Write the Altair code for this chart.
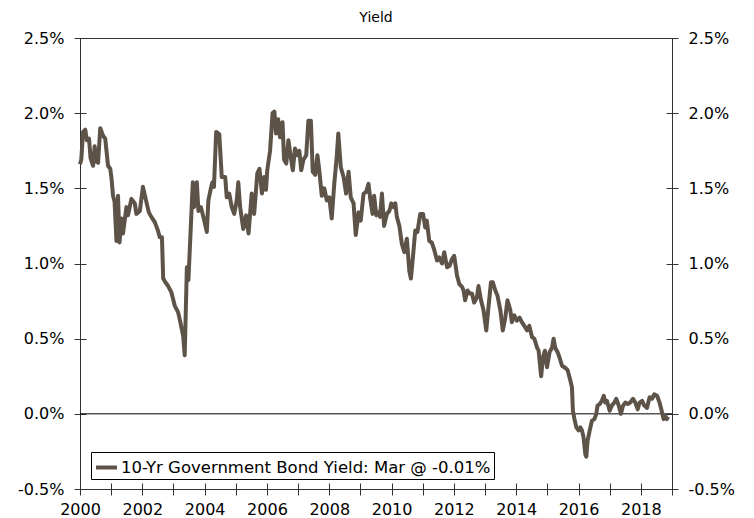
import altair as alt
import pandas as pd

SERIES = "10-Yr Government Bond Yield: Mar @ -0.01%"
TITLE = "Yield"

years = [
    2000.00, 2000.04, 2000.10, 2000.17, 2000.22, 2000.29, 2000.34, 2000.42, 2000.47, 2000.52,
    2000.58, 2000.65, 2000.74, 2000.81, 2000.90, 2000.97, 2001.01, 2001.06, 2001.11, 2001.17,
    2001.22, 2001.27, 2001.33, 2001.38, 2001.49, 2001.54, 2001.65, 2001.76, 2001.81, 2001.92,
    2002.02, 2002.13, 2002.21, 2002.29, 2002.40, 2002.50, 2002.56, 2002.63, 2002.67, 2002.74,
    2002.83, 2002.93, 2003.04, 2003.15, 2003.20, 2003.31, 2003.36, 2003.43, 2003.48, 2003.62,
    2003.66, 2003.75, 2003.80, 2003.88, 2003.96, 2004.07, 2004.12, 2004.20, 2004.25, 2004.30,
    2004.37, 2004.47, 2004.55, 2004.66, 2004.71, 2004.79, 2004.87, 2004.95, 2005.03, 2005.08,
    2005.14, 2005.24, 2005.33, 2005.41, 2005.51, 2005.59, 2005.69, 2005.76, 2005.84, 2005.91,
    2005.97, 2006.01, 2006.10, 2006.18, 2006.24, 2006.29, 2006.36, 2006.42, 2006.50, 2006.55,
    2006.62, 2006.69, 2006.77, 2006.83, 2006.90, 2006.98, 2007.04, 2007.10, 2007.17, 2007.26,
    2007.33, 2007.41, 2007.47, 2007.55, 2007.62, 2007.68, 2007.76, 2007.84, 2007.92, 2008.00,
    2008.08, 2008.16, 2008.24, 2008.29, 2008.37, 2008.46, 2008.54, 2008.62, 2008.69, 2008.78,
    2008.85, 2008.94, 2009.01, 2009.10, 2009.18, 2009.26, 2009.31, 2009.39, 2009.44, 2009.51,
    2009.58, 2009.63, 2009.69, 2009.76, 2009.85, 2009.93, 2009.99, 2010.06, 2010.12, 2010.17,
    2010.25, 2010.33, 2010.41, 2010.49, 2010.57, 2010.62, 2010.68, 2010.76, 2010.83, 2010.92,
    2011.01, 2011.08, 2011.13, 2011.21, 2011.29, 2011.37, 2011.46, 2011.53, 2011.62, 2011.69,
    2011.78, 2011.86, 2011.94, 2012.01, 2012.10, 2012.17, 2012.26, 2012.31, 2012.36, 2012.44,
    2012.50, 2012.58, 2012.65, 2012.74, 2012.79, 2012.87, 2012.95, 2013.04, 2013.11, 2013.19,
    2013.25, 2013.33, 2013.40, 2013.49, 2013.57, 2013.65, 2013.72, 2013.81, 2013.86, 2013.94,
    2014.02, 2014.11, 2014.18, 2014.26, 2014.35, 2014.42, 2014.51, 2014.58, 2014.67, 2014.72,
    2014.80, 2014.86, 2014.92, 2014.99, 2015.07, 2015.15, 2015.20, 2015.25, 2015.33, 2015.39,
    2015.47, 2015.58, 2015.65, 2015.74, 2015.79, 2015.82, 2015.87, 2015.93, 2016.00, 2016.06,
    2016.11, 2016.16, 2016.22, 2016.25, 2016.29, 2016.36, 2016.43, 2016.51, 2016.57, 2016.61,
    2016.68, 2016.75, 2016.81, 2016.86, 2016.91, 2017.00, 2017.07, 2017.15, 2017.21, 2017.29,
    2017.36, 2017.43, 2017.50, 2017.58, 2017.66, 2017.75, 2017.82, 2017.90, 2017.96, 2018.04,
    2018.11, 2018.20, 2018.28, 2018.36, 2018.43, 2018.52, 2018.60, 2018.68, 2018.73, 2018.79,
    2018.84, 2018.87,
]

yields = [
    1.66, 1.69, 1.875, 1.89, 1.82, 1.83, 1.70, 1.65, 1.78, 1.68,
    1.67, 1.90, 1.85, 1.83, 1.65, 1.63, 1.57, 1.45, 1.41, 1.15,
    1.45, 1.14, 1.30, 1.20, 1.375, 1.32, 1.43, 1.40, 1.33, 1.35,
    1.51, 1.41, 1.34, 1.31, 1.275, 1.22, 1.175, 1.175, 0.90, 0.875,
    0.85, 0.81, 0.72, 0.675, 0.63, 0.52, 0.39, 0.975, 0.89, 1.54,
    1.375, 1.54, 1.35, 1.375, 1.31, 1.21, 1.42, 1.50, 1.54, 1.51,
    1.875, 1.86, 1.575, 1.575, 1.44, 1.465, 1.375, 1.33, 1.42, 1.54,
    1.375, 1.23, 1.32, 1.20, 1.465, 1.33, 1.60, 1.63, 1.465, 1.575,
    1.49, 1.62, 1.75, 2.00, 2.01, 1.865, 1.96, 1.84, 1.94, 1.69,
    1.665, 1.82, 1.70, 1.62, 1.765, 1.72, 1.75, 1.62, 1.69, 1.72,
    1.95, 1.95, 1.61, 1.59, 1.72, 1.62, 1.45, 1.50, 1.42, 1.44,
    1.30, 1.53, 1.71, 1.865, 1.64, 1.575, 1.465, 1.61, 1.44, 1.40,
    1.19, 1.34, 1.285, 1.465, 1.475, 1.53, 1.44, 1.33, 1.45, 1.32,
    1.34, 1.31, 1.465, 1.25, 1.33, 1.35, 1.40, 1.375, 1.40, 1.31,
    1.25, 1.13, 1.075, 1.165, 0.95, 0.90, 1.03, 1.22, 1.21, 1.33,
    1.33, 1.24, 1.285, 1.15, 1.14, 1.09, 1.02, 1.04, 1.00, 1.075,
    0.975, 0.985, 1.03, 1.05, 0.92, 0.865, 0.845, 0.82, 0.755, 0.82,
    0.80, 0.80, 0.74, 0.775, 0.85, 0.755, 0.69, 0.555, 0.71, 0.875,
    0.875, 0.82, 0.785, 0.69, 0.555, 0.64, 0.755, 0.69, 0.61, 0.655,
    0.62, 0.64, 0.61, 0.585, 0.555, 0.585, 0.51, 0.50, 0.44, 0.42,
    0.25, 0.375, 0.42, 0.31, 0.41, 0.44, 0.50, 0.44, 0.41, 0.375,
    0.32, 0.305, 0.29, 0.22, 0.175, 0.02, -0.035, -0.09, -0.11, -0.09,
    -0.11, -0.155, -0.27, -0.285, -0.18, -0.11, -0.045, -0.035, 0.0, 0.055,
    0.065, 0.087, 0.12, 0.075, 0.087, 0.02, 0.055, 0.075, 0.10, 0.055,
    0.0, 0.055, 0.075, 0.065, 0.075, 0.10, 0.075, 0.03, 0.075, 0.087,
    0.055, 0.04, 0.11, 0.10, 0.13, 0.12, 0.075, 0.01, -0.035, -0.015,
    -0.035, -0.02,
]

tick_years = list(range(2000, 2020))
tick_pcts = [-0.5, 0.0, 0.5, 1.0, 1.5, 2.0, 2.5]

df = pd.DataFrame({"year": years, "yield": yields, "series": SERIES})
zero_df = pd.DataFrame({"zero": [0.0]})

FONT = "DejaVu Sans"
LINE_COLOR = "#5e5348"
AXIS_COLOR = "#333333"
XDOM = [2000, 2019]
YDOM = [-0.5, 2.5]
ylab = "(datum.value < 0 ? '-' : '') + format(abs(datum.value), '.1f') + '%'"
xlab = "datum.value % 2 == 0 ? format(datum.value, 'd') : ''"

xscale = alt.Scale(domain=XDOM, nice=False, zero=False)
yscale = alt.Scale(domain=YDOM, nice=False, zero=False)


def y_axis(orient):
    return alt.Axis(orient=orient, values=tick_pcts, labelExpr=ylab, title=None,
                    offset=-6, tickSize=12, labelPadding=10, grid=False, domain=False,
                    tickColor=AXIS_COLOR, labelFont=FONT, labelFontSize=16,
                    labelColor="black")


# zero line, carrying the right axis
zero = alt.Chart(zero_df).mark_rule(color="black", strokeWidth=1).encode(
    y=alt.Y("zero:Q", scale=yscale, axis=y_axis("right")),
)

line = alt.Chart(df).mark_line(strokeWidth=4, strokeJoin="round").encode(
    x=alt.X("year:Q", scale=xscale,
            axis=alt.Axis(orient="bottom", values=tick_years, labelExpr=xlab, title=None,
                          offset=-6, tickSize=12, labelPadding=6, grid=False,
                          domain=False, labelFlush=False, tickColor=AXIS_COLOR,
                          labelFont=FONT, labelFontSize=16, labelColor="black")),
    y=alt.Y("yield:Q", scale=yscale, axis=y_axis("left")),
    color=alt.Color("series:N", scale=alt.Scale(range=[LINE_COLOR]),
                    legend=alt.Legend(title=None, orient="none", legendX=11, legendY=414,
                                      symbolType="stroke", symbolSize=440,
                                      symbolStrokeWidth=4, labelFont=FONT,
                                      labelFontSize=16.5, labelColor="black",
                                      labelLimit=1000, labelOffset=2,
                                      strokeColor="black", fillColor="white",
                                      padding=3)),
)

chart = alt.layer(zero, line).resolve_scale(
    y="independent"
).properties(
    width=592,
    height=451,
    padding={"left": 72, "top": 30, "right": 70, "bottom": 36},
    autosize=alt.AutoSizeParams(type="none"),
    title=alt.TitleParams(TITLE, font=FONT, fontSize=14, fontWeight="normal",
                          color="black", anchor="middle", offset=5),
).configure_view(
    stroke=AXIS_COLOR, strokeWidth=1
)

chart.save("out.html", embed_options={"renderer": "svg", "actions": False})
